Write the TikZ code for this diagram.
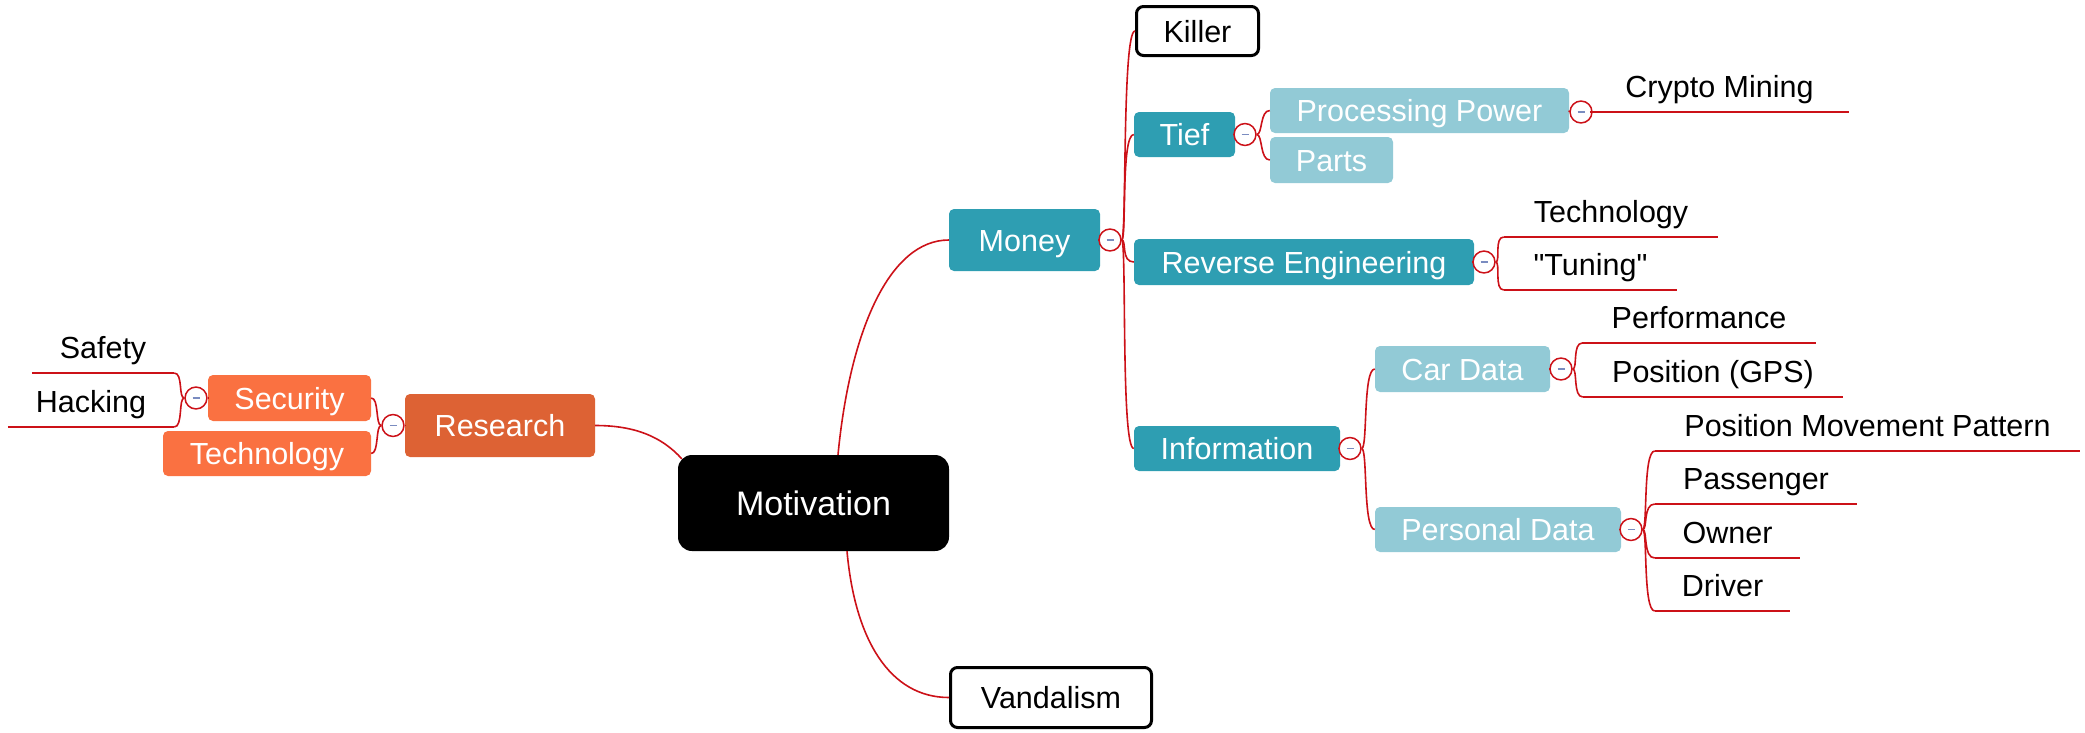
\documentclass[tikz,border=0pt]{standalone}
\usepackage{fontspec}
\setmainfont{Liberation Sans}[Ligatures=TeXOff]
\usetikzlibrary{calc}
\definecolor{tealA}{HTML}{2E9EB2}
\definecolor{tealL}{HTML}{92CAD6}
\definecolor{resorange}{HTML}{DD6234}
\definecolor{lorange}{HTML}{FA7141}
\definecolor{linered}{HTML}{CC1118}
\definecolor{minusblue}{HTML}{7A8CC0}
\begin{document}
\begin{tikzpicture}[x=1pt,y=-1pt,
  every node/.style={inner sep=0pt, font=\fontsize{30.5}{36}\selectfont, text height=22pt, text depth=0pt},
  box/.style={rounded corners=5pt, text=white},
  tealbox/.style={box, fill=tealA},
  ltealbox/.style={box, fill=tealL},
  resbox/.style={box, fill=resorange},
  orbox/.style={box, fill=lorange},
  rootbox/.style={fill=black, text=white, rounded corners=14pt, font=\fontsize{34}{40}\selectfont, text height=24.4pt},
  outbox/.style={draw=black, line width=3pt, fill=white, rounded corners=7pt, text=black},
  ulabel/.style={minimum height=50pt, text=black, anchor=south},
  conn/.style={draw=linered, line width=1.6pt},
  collapse/.style={circle, draw=linered, fill=white, line width=1.5pt, minimum size=15pt,
    path picture={\draw[minusblue, line width=1.4pt] ([xshift=-3.5pt]path picture bounding box.center) -- ([xshift=3.5pt]path picture bounding box.center);}},
]
\useasboundingbox (0,0) rectangle (2085,732);

% main nodes
\node[rootbox, minimum width=271pt, minimum height=96pt] (mot) at (813.5,503) {Motivation};
\node[outbox, minimum width=201pt, minimum height=60pt] (vand) at (1051,697.5) {Vandalism};
\node[outbox, minimum width=122pt, minimum height=49pt] (killer) at (1197.5,31) {Killer};
\node[tealbox, minimum width=151pt, minimum height=62pt] (money) at (1024.5,240) {Money};
\node[resbox, minimum width=190pt, minimum height=63pt] (research) at (500,425.5) {Research};
\node[orbox, minimum width=163pt, minimum height=46pt] (security) at (289.5,398) {Security};
\node[orbox, minimum width=208pt, minimum height=45pt] (techL) at (267,453.5) {Technology};
\node[tealbox, minimum width=101pt, minimum height=45pt] (tief) at (1184.5,134.5) {Tief};
\node[ltealbox, minimum width=299pt, minimum height=45pt] (pp) at (1419.5,110.5) {Processing Power};
\node[ltealbox, minimum width=123pt, minimum height=46pt] (parts) at (1331.5,160) {Parts};
\node[tealbox, minimum width=340pt, minimum height=46pt] (re) at (1304,262) {Reverse Engineering};
\node[tealbox, minimum width=206pt, minimum height=45pt] (info) at (1237,448.5) {Information};
\node[ltealbox, minimum width=175pt, minimum height=46pt] (car) at (1462.5,369) {Car Data};
\node[ltealbox, minimum width=246pt, minimum height=45pt] (pd) at (1498,529.5) {Personal Data};

% underlined labels
\node[ulabel, minimum width=142pt] (safety) at (103,373) {Safety};
\node[ulabel, minimum width=166pt] (hacking) at (91,427) {Hacking};
\node[ulabel, minimum width=259pt] (crypto) at (1719.5,112) {Crypto Mining};
\node[ulabel, minimum width=214pt] (techR) at (1611,237) {Technology};
\node[ulabel, minimum width=173pt] (tuning) at (1590.5,290) {"Tuning"};
\node[ulabel, minimum width=233pt] (perf) at (1699,343) {Performance};
\node[ulabel, minimum width=260pt] (gps) at (1713,397) {Position (GPS)};
\node[ulabel, minimum width=425pt] (pmp) at (1867.5,451) {Position Movement Pattern};
\node[ulabel, minimum width=202pt] (pass) at (1756,504) {Passenger};
\node[ulabel, minimum width=145pt] (owner) at (1727.5,558) {Owner};
\node[ulabel, minimum width=135pt] (driver) at (1722.5,611) {Driver};

% collapse circles
\node[collapse] (cRes) at (393,425.5) {};
\node[collapse] (cSec) at (196,398) {};
\node[collapse] (cMoney) at (1110,240) {};
\node[collapse] (cTief) at (1245,134.5) {};
\node[collapse] (cPP) at (1581,112) {};
\node[collapse] (cRE) at (1484,262) {};
\node[collapse] (cInfo) at (1350,448.5) {};
\node[collapse] (cCar) at (1561,369) {};
\node[collapse] (cPD) at (1631,529.5) {};

% parent to circle
\draw[conn] (research.west) -- (cRes.east);
\draw[conn] (security.west) -- (cSec.east);
\draw[conn] (money.east) -- (cMoney.west);
\draw[conn] (tief.east) -- (cTief.west);
\draw[conn] (pp.east) -- (cPP.west);
\draw[conn] (re.east) -- (cRE.west);
\draw[conn] (info.east) -- (cInfo.west);
\draw[conn] (car.east) -- (cCar.west);
\draw[conn] (pd.east) -- (cPD.west);

% underlines
\foreach \n in {safety,hacking,crypto,techR,tuning,perf,gps,pmp,pass,owner,driver}
  \draw[conn] (\n.south west) -- (\n.south east);

% root connectors
\draw[conn] (research.east) .. controls +(40,0) and +(-20,-22) .. ($(mot.north west)+(4,4)$);
\draw[conn] ($(mot.north)+(24.5,0)$) .. controls +(12,-125) and +(-59,0) .. (money.west);
\draw[conn] ($(mot.south)+(33.5,0)$) .. controls +(8,89) and +(-59,0) .. (vand.west);

% Money branches
\foreach \t in {killer,tief,re,info}
  \draw[conn] (cMoney.east) .. controls +(5,0) and +(-13,0) .. (\t.west);
% Tief branches
\foreach \t in {pp,parts}
  \draw[conn] (cTief.east) .. controls +(6,0) and +(-10,0) .. (\t.west);
% Info branches
\foreach \t in {car,pd}
  \draw[conn] (cInfo.east) .. controls +(6,0) and +(-12,0) .. (\t.west);
% Research branches (leftward)
\foreach \t in {security,techL}
  \draw[conn] (cRes.west) .. controls +(-6,0) and +(8,0) .. (\t.east);
% Security branches (leftward)
\foreach \t in {safety,hacking}
  \draw[conn] (cSec.west) .. controls +(-6,0) and +(9,0) .. (\t.south east);
% PP
\draw[conn] (cPP.east) -- (crypto.south west);
% RE
\foreach \t in {techR,tuning}
  \draw[conn] (cRE.east) .. controls +(5,0) and +(-10,0) .. (\t.south west);
% Car data
\foreach \t in {perf,gps}
  \draw[conn] (cCar.east) .. controls +(5,0) and +(-10,0) .. (\t.south west);
% Personal data
\foreach \t in {pmp,pass,owner,driver}
  \draw[conn] (cPD.east) .. controls +(5,0) and +(-12,0) .. (\t.south west);
\end{tikzpicture}
\end{document}
